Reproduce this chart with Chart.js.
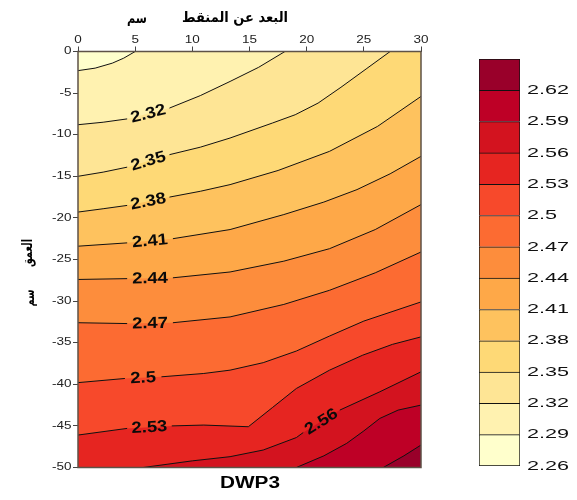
<!DOCTYPE html>
<html>
<head>
<meta charset="utf-8">
<script src="https://cdn.jsdelivr.net/npm/chart.js@4.4.1/dist/chart.umd.min.js"></script>
<style>
  body { margin: 0; background: #fff; }
  #wrap { position: relative; width: 577px; height: 500px; }
  #wrap canvas { position: absolute; top: 0; }
</style>
</head>
<body>
<div id="wrap">
  <canvas id="contour" width="577" height="500" style="left:0"></canvas>
  <canvas id="scalebar" width="137" height="500" style="left:440px"></canvas>
</div>
<script>
// contour levels, colour-bar band edges and band colours (lowest first)
const levels = [2.29, 2.32, 2.35, 2.38, 2.41, 2.44, 2.47, 2.5, 2.53, 2.56, 2.59, 2.62];
const barEdges = [2.26, 2.29, 2.32, 2.35, 2.38, 2.41, 2.44, 2.47, 2.5, 2.53, 2.56, 2.59, 2.62, 2.65];
const bandColors = ['#ffffcc', '#fff2b0', '#fee595', '#fed976', '#fec25e', '#fea848', '#fd8d3c',
                    '#fc6b32', '#f7492b', '#e62521', '#d3131f', '#be0026', '#99002a'];

// distance from dripper (cm) / depth (cm) along each contour
const c229 = [[0, -2.3], [1.5, -2.0], [3, -1.4], [4, -0.8], [5, 0]];
const c232 = [[0, -8.8], [2.2, -8.5], [4.3, -8.1], [8, -6.8], [10.7, -5.3], [13.3, -3.6], [15.8, -1.9], [18.1, 0]];
const c235 = [[0, -15.0], [2.2, -14.5], [4.3, -13.9], [8, -12.4], [10.7, -11.5], [13.3, -10.4], [17, -8.6],
              [19, -7.6], [21, -6.2], [23, -4.3], [25.2, -2.1], [27.3, 0]];
const c238 = [[0, -19.3], [2.2, -18.9], [4.3, -18.5], [8, -17.5], [10.7, -16.8], [13.3, -16.0], [17.5, -14.3],
              [22, -12.0], [26.2, -9.0], [30, -5.4]];
const c241 = [[0, -23.4], [4.3, -23.0], [8.3, -22.5], [13.3, -21.4], [18, -19.6], [21.5, -18.1], [24.4, -16.6],
              [27.3, -14.7], [30, -12.6]];
const c244 = [[0, -27.4], [4.3, -27.3], [8.3, -27.2], [13.3, -26.5], [18, -25.2], [22, -23.7], [26, -21.4], [30, -18.4]];
const c247 = [[0, -32.6], [4.3, -32.7], [8.3, -32.6], [13.3, -31.9], [18, -30.4], [22, -28.7], [26, -26.6], [30, -24.1]];
const c250 = [[0, -39.8], [4.1, -39.3], [7.3, -39.1], [11, -38.7], [13.3, -38.3], [16.2, -37.4], [19.1, -36.0],
              [22, -34.2], [25, -32.4], [30, -30.1]];
const c253 = [[0, -46.1], [4.3, -45.3], [8.2, -45.0], [11, -44.9], [14.9, -45.1], [17, -42.8], [19.1, -40.5],
              [22, -38.3], [24.9, -36.5], [27.5, -35.2], [30, -34.3]];
const c256 = [[5.7, -50], [10, -49.2], [13.3, -48.7], [16.2, -47.9], [19.1, -46.4], [19.7, -45.8], [22.9, -43.1],
              [26.4, -40.9], [30, -38.5]];
const c259 = [[19.1, -50], [21.5, -48.6], [23.5, -47.1], [25, -45.6], [26.4, -44.1], [28, -43.1], [30, -42.5]];
const c262 = [[26.7, -50], [28.5, -48.6], [30, -47.3]];

const contours = [c229, c232, c235, c238, c241, c244, c247, c250, c253, c256, c259, c262];
// segment of each contour left open for its label (-1: unlabelled)
const labelGap = [-1, 2, 2, 2, 1, 1, 1, 1, 1, 5, -1, -1];

const xMin = 0, xMax = 30, yMin = -50, yMax = 0;

const toXY = pts => pts.map(([x, y]) => ({x, y}));

// close a contour round the deeper / farther corner of the plot
function bandShape(pts) {
  const shape = toXY(pts);
  if (pts[pts.length - 1][1] === yMax) shape.push({x: xMax, y: yMax});
  shape.push({x: xMax, y: yMin});
  if (pts[0][0] === xMin) shape.push({x: xMin, y: yMin});
  return shape;
}

function drawText(ctx, text, x, y, font, sx, align, angle) {
  ctx.save();
  ctx.translate(x, y);
  ctx.rotate(angle || 0);
  ctx.scale(sx, 1);
  ctx.font = font;
  ctx.textAlign = align;
  ctx.textBaseline = 'middle';
  ctx.fillText(text, 0, 0);
  ctx.restore();
}

function fitText(ctx, text, x, y, width, font, angle) {
  ctx.font = font;
  const sx = width / ctx.measureText(text).width;
  drawText(ctx, text, x, y, font, sx, 'center', angle);
}

const datasets = [{
  data: toXY([[xMin, yMax], [xMax, yMax], [xMax, yMin], [xMin, yMin]]),
  backgroundColor: bandColors[0], order: 100
}];
contours.forEach((pts, i) => {
  datasets.push({ data: bandShape(pts), backgroundColor: bandColors[i + 1], order: 50 - i });
});
datasets.forEach(d => Object.assign(d, { fill: 'shape', borderColor: 'transparent', borderWidth: 0 }));

contours.forEach((pts, i) => {
  datasets.push({
    data: toXY(pts),
    fill: false,
    borderColor: '#111',
    borderWidth: 1,
    order: 0,
    gap: labelGap[i],
    level: levels[i],
    segment: { borderColor: c => c.p0DataIndex === labelGap[i] ? 'transparent' : undefined }
  });
});

// contour value labels sitting in the open segments
const contourLabels = {
  id: 'contourLabels',
  afterDatasetsDraw(chart) {
    const ctx = chart.ctx;
    ctx.save();
    ctx.fillStyle = '#0a0a0a';
    chart.data.datasets.forEach((d, i) => {
      if (d.gap === undefined || d.gap < 0) return;
      const pts = chart.getDatasetMeta(i).data;
      const p0 = pts[d.gap], p1 = pts[d.gap + 1];
      const ang = Math.atan2(p1.y - p0.y, p1.x - p0.x);
      drawText(ctx, String(d.level), (p0.x + p1.x) / 2, (p0.y + p1.y) / 2 + 0.5,
               'bold 16px "Liberation Sans", Arial', 1.15, 'center', ang);
    });
    ctx.restore();
  }
};

const axisText = {
  id: 'axisText',
  afterDraw(chart) {
    const {ctx, chartArea: a, scales: {x, y}} = chart;
    ctx.save();
    ctx.fillStyle = '#222';
    const tickFont = '10px "Liberation Sans", Arial';
    x.ticks.forEach(t => drawText(ctx, String(t.value), x.getPixelForValue(t.value), a.top - 11, tickFont, 1.35, 'center'));
    y.ticks.forEach(t => drawText(ctx, String(t.value), a.left - 6.5, y.getPixelForValue(t.value), tickFont, 1.35, 'right'));

    ctx.fillStyle = '#000';
    const ar = 'bold 14px "DejaVu Sans"';
    fitText(ctx, 'البعد عن المنقط', 235, 18, 106, ar);
    fitText(ctx, 'سم', 137, 19, 20, ar);
    fitText(ctx, 'العمق', 28, 253, 28, ar, -Math.PI / 2);
    fitText(ctx, 'سم', 30, 298, 17, ar, -Math.PI / 2);
    fitText(ctx, 'DWP3', 250, 484, 60, 'bold 16px "Liberation Sans", Arial');

    ctx.strokeStyle = '#5e5247';
    ctx.lineWidth = 1.5;
    ctx.strokeRect(a.left, a.top, a.right - a.left, a.bottom - a.top);
    ctx.restore();
  }
};

const tickGrid = { drawOnChartArea: false, tickLength: 5, color: '#444' };

new Chart(document.getElementById('contour'), {
  type: 'scatter',
  data: { datasets },
  options: {
    responsive: false,
    animation: false,
    showLine: true,
    elements: { point: { radius: 0 }, line: { tension: 0 } },
    layout: { padding: { left: 58, right: 156, top: 31.5, bottom: 32.5 } },
    scales: {
      x: {
        type: 'linear', position: 'top', min: xMin, max: xMax,
        ticks: { stepSize: 5, display: false },
        grid: tickGrid, border: { display: false },
        afterFit: s => { s.height = 20; }
      },
      y: {
        type: 'linear', min: yMin, max: yMax,
        ticks: { stepSize: 5, display: false },
        grid: tickGrid, border: { display: false },
        afterFit: s => { s.width = 20; }
      }
    },
    plugins: { legend: { display: false }, tooltip: { enabled: false } }
  },
  plugins: [contourLabels, axisText]
});

// colour bar
const barText = {
  id: 'barText',
  afterDraw(chart) {
    const {ctx, scales: {y}} = chart;
    ctx.save();
    ctx.fillStyle = '#111';
    barEdges.slice(0, -1).forEach(v =>
      drawText(ctx, String(v), 87, y.getPixelForValue(v), '13.5px "Liberation Sans", Arial', 1.6, 'left'));
    ctx.restore();
  }
};

new Chart(document.getElementById('scalebar'), {
  type: 'bar',
  data: {
    labels: [''],
    datasets: bandColors.map((c, i) => ({
      data: [[barEdges[i], barEdges[i + 1]]],
      backgroundColor: c,
      borderColor: '#111',
      borderWidth: { top: 1, left: 1, right: 1, bottom: i === 0 ? 1 : 0 },
      borderSkipped: false,
      grouped: false,
      barPercentage: 1,
      categoryPercentage: 1
    }))
  },
  options: {
    responsive: false,
    animation: false,
    layout: { padding: { left: 39, right: 57, top: 59, bottom: 34 } },
    scales: {
      x: { display: false },
      y: { display: false, min: 2.26, max: 2.65 }
    },
    plugins: { legend: { display: false }, tooltip: { enabled: false } }
  },
  plugins: [barText]
});
</script>
</body>
</html>
